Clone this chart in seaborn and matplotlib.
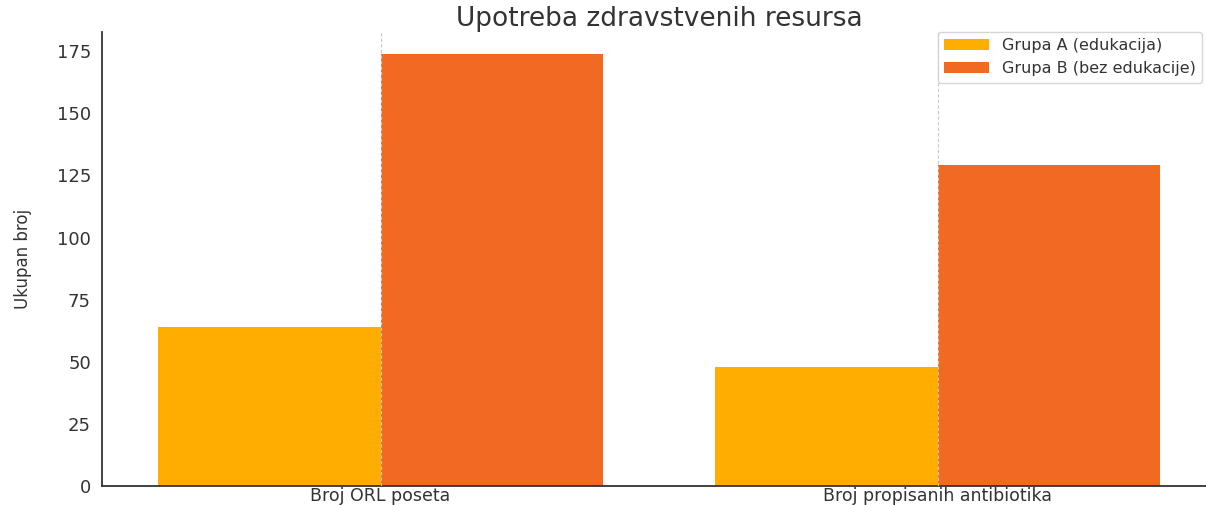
import pandas as pd
import matplotlib
matplotlib.use("Agg")
import matplotlib.pyplot as plt
import seaborn as sns

# values
categories = ["Broj ORL poseta", "Broj propisanih antibiotika"]
groups = ["Grupa A (edukacija)", "Grupa B (bez edukacije)"]
grupa_a = [64, 48]
grupa_b = [174, 129]
colors = {"Grupa A (edukacija)": "#FFAE00", "Grupa B (bez edukacije)": "#F26A21"}

df = pd.DataFrame({
    "Kategorija": categories * 2,
    "Grupa": [groups[0]] * len(categories) + [groups[1]] * len(categories),
    "Broj": grupa_a + grupa_b,
})

sns.set_style("white")
plt.rcParams["font.family"] = ["DejaVu Sans"]
plt.rcParams["text.color"] = "#333333"

fig = plt.figure(figsize=(12.06, 5.05), dpi=100)
ax = fig.add_axes([102 / 1206, 19 / 505, 1114 / 1206, 454 / 505])

sns.barplot(data=df, x="Kategorija", y="Broj", hue="Grupa", hue_order=groups,
            palette=colors, width=0.8, saturation=1, ax=ax, edgecolor="none")

ax.set_title("Upotreba zdravstvenih resursa", fontsize=19, color="#333333", pad=4)
ax.set_xlabel("")
ax.set_ylabel("Ukupan broj", fontsize=12, color="#333333", labelpad=18)
ax.set_yticks(range(0, 176, 25))
ax.tick_params(axis="both", direction="in", labelsize=13, colors="#333333", length=5, width=1)
ax.tick_params(axis="x", pad=1, labelsize=12.5)
ax.tick_params(axis="y", pad=8)
ax.grid(axis="x", color="#c8c8c8", linestyle=(0, (3, 2)), linewidth=0.8)
ax.set_axisbelow(False)

sns.despine(ax=ax, top=True, right=True)
for side in ["left", "bottom"]:
    ax.spines[side].set_color("#333333")
    ax.spines[side].set_linewidth(1.3)

ax.legend(loc="upper right", bbox_to_anchor=(0.9875, 1.0), borderaxespad=0,
          fontsize=11.5, handlelength=2.8, frameon=True, edgecolor="#cccccc")

fig.savefig("out.png", dpi=100)
